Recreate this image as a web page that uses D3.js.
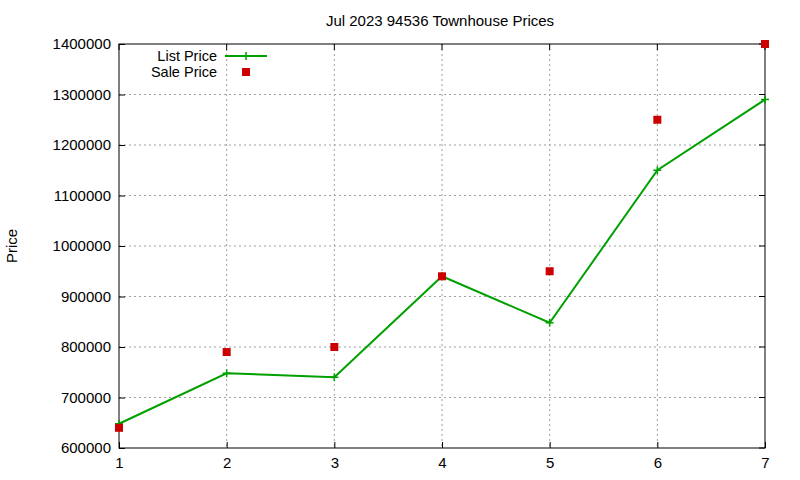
<!DOCTYPE html><html><head><script src="https://cdn.jsdelivr.net/npm/d3@7"></script>
<style>body{margin:0;background:#fff}text{font-family:"Liberation Sans",Arial,sans-serif}</style></head><body>
<svg id="c" width="800" height="480"></svg>
<script>
const xs=[1,2,3,4,5,6,7];
const listPrice=[648000,748000,740000,940000,848000,1150000,1290000];
const salePrice=[640000,790000,800000,940000,950000,1250000,1400000];
const yTicks=[600000,700000,800000,900000,1000000,1100000,1200000,1300000,1400000];
const svg=d3.select("#c");
const x=d3.scaleLinear().domain([1,7]).range([119,765]);
const y=d3.scaleLinear().domain([600000,1400000]).range([448,44]);
const g=svg.append("g");
g.selectAll(".gx").data(xs.slice(1,-1)).join("line").attr("x1",d=>x(d)).attr("x2",d=>x(d)).attr("y1",44).attr("y2",448).attr("stroke","#a0a0a0").attr("stroke-dasharray","2,3");
g.selectAll(".gy").data(yTicks.slice(1,-1)).join("line").attr("y1",d=>y(d)).attr("y2",d=>y(d)).attr("x1",119).attr("x2",765).attr("stroke","#a0a0a0").attr("stroke-dasharray","2,3");
svg.append("rect").attr("x",119).attr("y",44).attr("width",646).attr("height",404).attr("fill","none").attr("stroke","#000");
const ax=svg.append("g").attr("transform","translate(0,448)").call(d3.axisBottom(x).tickValues(xs).tickFormat(d3.format("d")).tickSize(-6).tickPadding(9));
const ay=svg.append("g").attr("transform","translate(119,0)").call(d3.axisLeft(y).tickValues(yTicks).tickFormat(d3.format("d")).tickSize(-6).tickPadding(8));
[ax,ay].forEach(a=>{a.select(".domain").remove();a.selectAll("text").attr("font-size",15).attr("fill","#000").style("font-family","Liberation Sans, Arial");});
svg.selectAll(".tt").data(xs).join("line").attr("x1",d=>x(d)).attr("x2",d=>x(d)).attr("y1",44).attr("y2",50).attr("stroke","#000");
svg.selectAll(".tr").data(yTicks).join("line").attr("y1",d=>y(d)).attr("y2",d=>y(d)).attr("x1",759).attr("x2",765).attr("stroke","#000");
svg.append("text").attr("x",440).attr("y",26).attr("text-anchor","middle").attr("font-size",15).text("Jul 2023 94536 Townhouse Prices");
svg.append("text").attr("transform","translate(17,246) rotate(-90)").attr("text-anchor","middle").attr("font-size",15).text("Price");
const line=d3.line().x((d,i)=>x(xs[i])).y(d=>y(d));
svg.append("path").datum(listPrice).attr("d",line).attr("fill","none").attr("stroke","#00a000").attr("stroke-width",2);
const plus=(sel,px,py)=>{sel.append("path").attr("d",`M${px-4},${py}H${px+4}M${px},${py-4}V${py+4}`).attr("stroke","#00a000").attr("stroke-width",1.5);};
listPrice.forEach((v,i)=>plus(svg,x(xs[i]),y(v)));
svg.selectAll(".sp").data(salePrice).join("rect").attr("x",(d,i)=>x(xs[i])-4).attr("y",d=>y(d)-4).attr("width",8).attr("height",8).attr("fill","#cc0000");
svg.append("text").attr("x",217).attr("y",61).attr("text-anchor","end").attr("font-size",14.5).text("List Price");
svg.append("line").attr("x1",225).attr("x2",267).attr("y1",56).attr("y2",56).attr("stroke","#00a000").attr("stroke-width",2);
plus(svg,246,56);
svg.append("text").attr("x",217).attr("y",77).attr("text-anchor","end").attr("font-size",14.5).text("Sale Price");
svg.append("rect").attr("x",242).attr("y",68).attr("width",8).attr("height",8).attr("fill","#cc0000");
</script></body></html>
